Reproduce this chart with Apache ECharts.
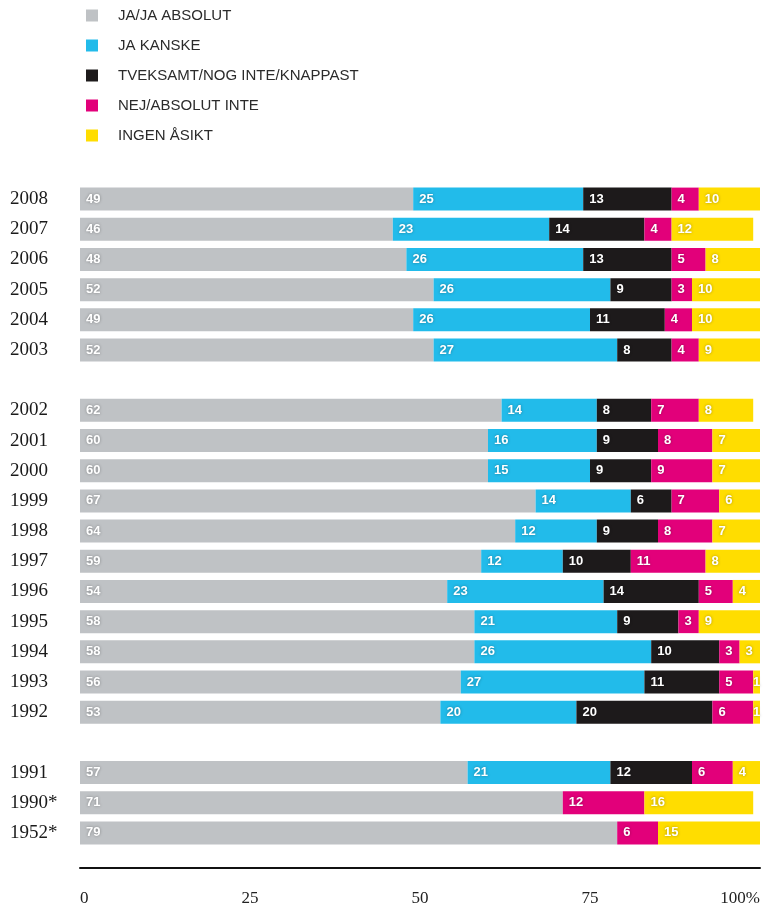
<!DOCTYPE html>
<html>
<head>
<meta charset="utf-8">
<script src="https://cdn.jsdelivr.net/npm/echarts@6/dist/echarts.min.js"></script>
<style>
  html, body { margin: 0; padding: 0; background: #ffffff; }
  #chart { width: 763px; height: 908px; }
</style>
</head>
<body>
<div id="chart"></div>
<script>
// Survey years, top to bottom; empty strings are spacer rows between the groups
const years = ['2008', '2007', '2006', '2005', '2004', '2003', '',
  '2002', '2001', '2000', '1999', '1998', '1997', '1996', '1995', '1994', '1993', '1992', '',
  '1991', '1990*', '1952*'];

// Answer shares (percent) per year, in the same order as years
const jaAbsolut   = [49, 46, 48, 52, 49, 52, null, 62, 60, 60, 67, 64, 59, 54, 58, 58, 56, 53, null, 57, 71, 79];
const jaKanske    = [25, 23, 26, 26, 26, 27, null, 14, 16, 15, 14, 12, 12, 23, 21, 26, 27, 20, null, 21, null, null];
const tveksamt    = [13, 14, 13, 9, 11, 8, null, 8, 9, 9, 6, 9, 10, 14, 9, 10, 11, 20, null, 12, null, null];
const nejAbsolut  = [4, 4, 5, 3, 4, 4, null, 7, 8, 9, 7, 8, 11, 5, 3, 3, 5, 6, null, 6, 12, 6];
const ingenAsikt  = [10, 12, 8, 10, 10, 9, null, 8, 7, 7, 6, 7, 8, 4, 9, 3, 1, 1, null, 4, 16, 15];

const seriesNames = ['JA/JA ABSOLUT', 'JA KANSKE', 'TVEKSAMT/NOG INTE/KNAPPAST', 'NEJ/ABSOLUT INTE', 'INGEN ÅSIKT'];
const seriesData = [jaAbsolut, jaKanske, tveksamt, nejAbsolut, ingenAsikt];
const colors = ['#bfc2c5', '#22bbea', '#1d1a1b', '#e2007a', '#ffdd00'];

const xTicks = [0, 25, 50, 75, 100];

const chart = echarts.init(document.getElementById('chart'), null, { renderer: 'canvas' });

// Very narrow segments get their label centred so it stays inside the bar
function toItems(values) {
  return values.map(function (v) {
    if (v != null && v <= 2) {
      return { value: v, label: { position: 'inside', align: 'center' } };
    }
    return v;
  });
}

chart.setOption({
  animation: false,
  color: colors,
  legend: {
    orient: 'vertical',
    left: 81,
    top: 3,
    itemWidth: 12,
    itemHeight: 12,
    itemGap: 15,
    icon: 'rect',
    selectedMode: false,
    textStyle: {
      fontFamily: 'Liberation Sans, Arial, sans-serif',
      fontSize: 15,
      color: '#2b2b2b',
      lineHeight: 12,
      padding: [0, 0, 0, 15]
    },
    data: seriesNames
  },
  grid: {
    left: 80,
    right: 2,
    top: 184,
    bottom: 60,
    containLabel: false
  },
  xAxis: {
    type: 'value',
    min: 0,
    max: 100,
    interval: 25,
    offset: 20,
    axisLine: { show: true, lineStyle: { color: '#111111', width: 2 } },
    axisTick: { show: false },
    splitLine: { show: false },
    axisLabel: {
      margin: 22,
      fontFamily: 'Liberation Serif, Times New Roman, serif',
      fontSize: 17,
      color: '#222222',
      alignMinLabel: 'left',
      alignMaxLabel: 'right',
      formatter: function (v) {
        return v === xTicks[xTicks.length - 1] ? v + '%' : String(v);
      }
    }
  },
  yAxis: {
    type: 'category',
    inverse: true,
    data: years,
    axisLine: { show: false },
    axisTick: { show: false },
    splitLine: { show: false },
    axisLabel: {
      align: 'left',
      margin: 70,
      fontFamily: 'Liberation Serif, Times New Roman, serif',
      fontSize: 19,
      color: '#1a1a1a'
    }
  },
  series: seriesNames.map(function (name, i) {
    return {
      name: name,
      type: 'bar',
      stack: 'total',
      barWidth: 23,
      data: toItems(seriesData[i]),
      itemStyle: { color: colors[i] },
      label: {
        show: true,
        position: [6, '50%'],
        align: 'left',
        verticalAlign: 'middle',
        color: '#ffffff',
        fontFamily: 'Liberation Sans, Arial, sans-serif',
        fontWeight: 'bold',
        fontSize: 13,
        textShadowColor: 'rgba(0,0,0,0.35)',
        textShadowBlur: 3,
        formatter: function (p) {
          return p.value == null ? '' : String(p.value);
        }
      }
    };
  })
});
</script>
</body>
</html>
